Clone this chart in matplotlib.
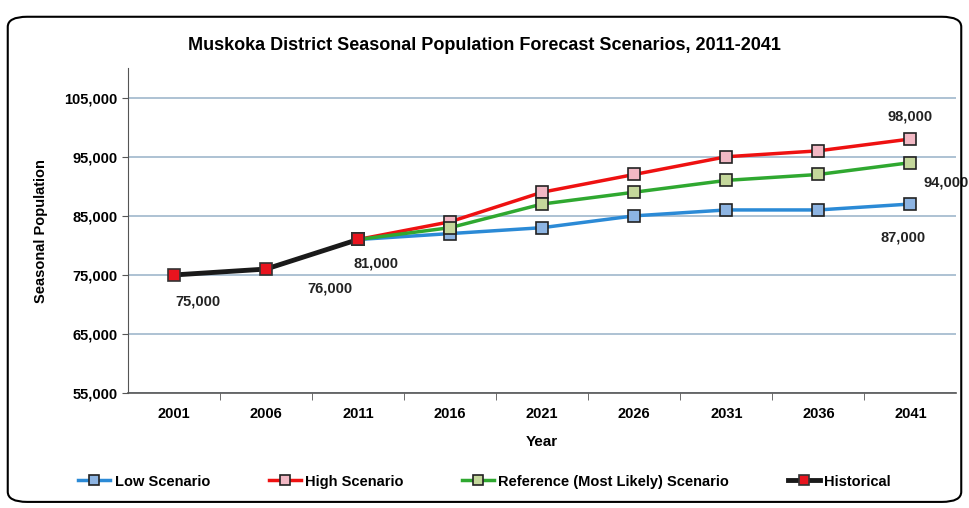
import matplotlib.pyplot as plt
from matplotlib.patches import FancyBboxPatch

# data
years = ['2001', '2006', '2011', '2016', '2021', '2026', '2031', '2036', '2041']
hist_years = ['2001', '2006', '2011']
historical = [75000, 76000, 81000]
fc_years = ['2011', '2016', '2021', '2026', '2031', '2036', '2041']
low = [81000, 82000, 83000, 85000, 86000, 86000, 87000]
high = [81000, 84000, 89000, 92000, 95000, 96000, 98000]
reference = [81000, 83000, 87000, 89000, 91000, 92000, 94000]

x_all = list(range(len(years)))
x_hist = [years.index(y) for y in hist_years]
x_fc = [years.index(y) for y in fc_years]

fig = plt.figure(figsize=(9.69, 5.08), dpi=100)
plt.rcParams['font.family'] = ['Liberation Sans', 'DejaVu Sans']

# rounded border round the chart
box = FancyBboxPatch((0.008, 0.012), 0.984, 0.955, boxstyle='round,pad=0,rounding_size=0.02',
                     transform=fig.transFigure, fill=False, edgecolor='black', linewidth=1.5)
fig.patches.append(box)

ax1 = fig.add_axes([0.132, 0.226, 0.855, 0.640])

ms = 9
ax1.plot(x_fc, low, color='#2b8ad6', linewidth=2.5, marker='s', markersize=ms,
         markerfacecolor='#8db4e2', markeredgecolor='#222222', markeredgewidth=1.2,
         label='Low Scenario', zorder=3)
ax1.plot(x_fc, high, color='#ee1111', linewidth=2.5, marker='s', markersize=ms,
         markerfacecolor='#f2b8c4', markeredgecolor='#222222', markeredgewidth=1.2,
         label='High Scenario', zorder=4)
ax1.plot(x_fc, reference, color='#2fa830', linewidth=2.5, marker='s', markersize=ms,
         markerfacecolor='#c4d79b', markeredgecolor='#222222', markeredgewidth=1.2,
         label='Reference (Most Likely) Scenario', zorder=5)
ax1.plot(x_hist, historical, color='#1a1a1a', linewidth=3.5, marker='s', markersize=ms,
         markerfacecolor='#e8141e', markeredgecolor='#333333', markeredgewidth=1.2,
         label='Historical', zorder=6)

# value labels
lab_kw = dict(fontsize=10.5, fontweight='bold', color='#222222')
ax1.annotate('75,000', (x_hist[0], historical[0]), xytext=(17, -22), textcoords='offset points', ha='center', **lab_kw)
ax1.annotate('76,000', (x_hist[1], historical[1]), xytext=(46, -17), textcoords='offset points', ha='center', **lab_kw)
ax1.annotate('81,000', (x_hist[2], historical[2]), xytext=(13, -20), textcoords='offset points', ha='center', **lab_kw)
ax1.annotate('98,000', (x_fc[-1], high[-1]), xytext=(0, 13), textcoords='offset points', ha='center', **lab_kw)
ax1.annotate('94,000', (x_fc[-1], reference[-1]), xytext=(26, -17), textcoords='offset points', ha='center', **lab_kw)
ax1.annotate('87,000', (x_fc[-1], low[-1]), xytext=(-5, -27), textcoords='offset points', ha='center', **lab_kw)

ax1.set_ylim(55000, 110000)
ax1.set_yticks(range(55000, 105001, 10000))
ax1.set_yticklabels([f'{v:,}' for v in range(55000, 105001, 10000)], fontsize=10.5, fontweight='bold')
ax1.set_xlim(-0.5, len(years) - 0.5)
ax1.set_xticks(x_all)
ax1.set_xticklabels(years, fontsize=10.5, fontweight='bold')
ax1.set_xticks([i + 0.5 for i in x_all[:-1]], minor=True)
ax1.tick_params(axis='x', which='major', length=0, pad=10)
ax1.tick_params(axis='x', which='minor', length=5, direction='out', color='#555555')
ax1.tick_params(axis='y', length=4, color='#555555')

ax1.grid(axis='y', color='#9fb7cc', linewidth=1.2)
ax1.set_axisbelow(True)
for side in ['top', 'right']:
    ax1.spines[side].set_visible(False)
ax1.spines['left'].set_color('#555555')
ax1.spines['bottom'].set_color('#555555')
ax1.spines['bottom'].set_linewidth(1.2)

ax1.set_xlabel('Year', fontsize=11, fontweight='bold', labelpad=10)
ax1.set_ylabel('Seasonal Population', fontsize=10.5, fontweight='bold', labelpad=12)
fig.text(0.5, 0.91, 'Muskoka District Seasonal Population Forecast Scenarios, 2011-2041',
         ha='center', va='center', fontsize=13, fontweight='bold')

fig.legend(loc='center', bbox_to_anchor=(0.5, 0.052), ncol=4, frameon=False,
           prop={'size': 10.5, 'weight': 'bold'},
           handlelength=2.2, handletextpad=0.3, columnspacing=4.0, markerscale=0.8)

fig.savefig('out.png', dpi=100)
